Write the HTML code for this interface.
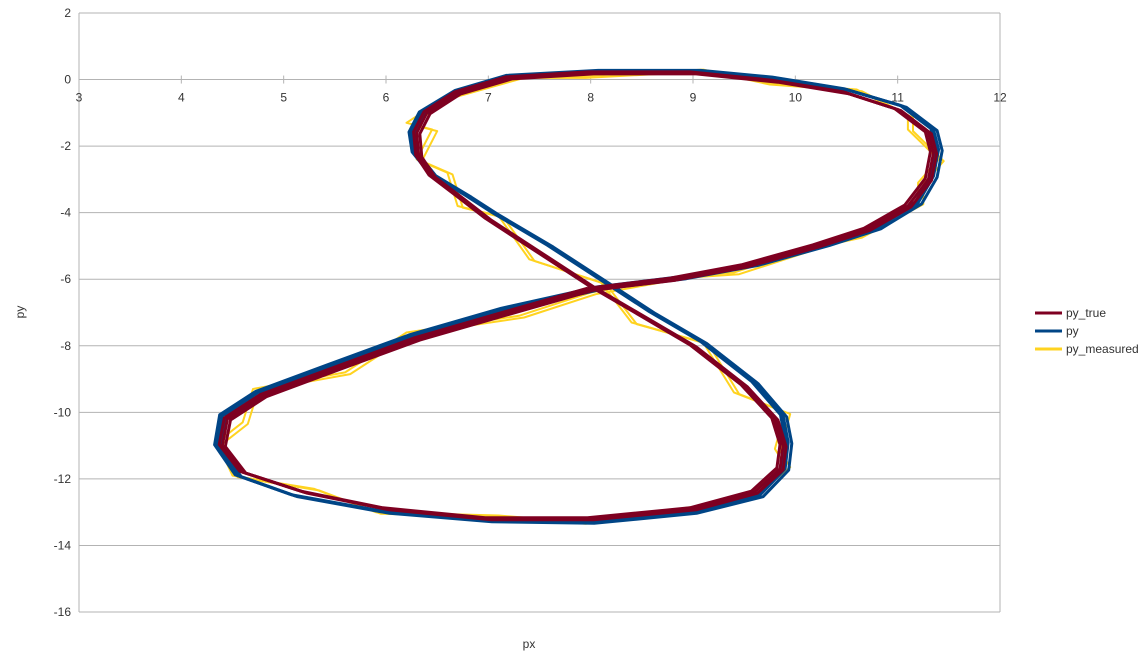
<!DOCTYPE html>
<html><head><meta charset="utf-8">
<style>
body{margin:0;background:#fff;font-family:"Liberation Sans",sans-serif;}
svg text{font-family:"Liberation Sans",sans-serif;font-size:12px;fill:#333;}
</style></head>
<body>
<svg id="chart" width="1147" height="656" xmlns="http://www.w3.org/2000/svg"></svg>
<script>
const xTicks=[3,4,5,6,7,8,9,10,11,12];
const yTicks=[2,0,-2,-4,-6,-8,-10,-12,-14,-16];
const trueX=[8.0,8.8,9.5,10.2,10.7,11.1,11.3,11.35,11.3,11.0,10.5,9.8,9.0,8.0,7.2,6.7,6.4,6.3,6.32,6.45,6.75,7.0,7.5,8.0,8.5,9.0,9.5,9.8,9.88,9.85,9.6,9.0,8.0,7.0,6.0,5.2,4.6,4.4,4.45,4.8,5.5,6.3,7.2,8.0];
const trueY=[-6.3,-6.0,-5.6,-5.0,-4.5,-3.8,-3.0,-2.2,-1.6,-0.9,-0.4,-0.05,0.2,0.2,0.05,-0.4,-1.0,-1.6,-2.3,-2.9,-3.6,-4.2,-5.2,-6.2,-7.1,-8.0,-9.2,-10.2,-11.0,-11.7,-12.4,-12.9,-13.2,-13.2,-12.9,-12.4,-11.8,-11.0,-10.2,-9.5,-8.7,-7.8,-7.0,-6.3];
const pyX=[8.1,8.9,9.6,10.3,10.8,11.2,11.35,11.4,11.35,11.05,10.5,9.8,9.1,8.1,7.2,6.7,6.35,6.25,6.28,6.45,6.8,7.05,7.6,8.1,8.6,9.1,9.6,9.88,9.93,9.9,9.65,9.0,8.0,7.0,6.0,5.1,4.55,4.35,4.4,4.75,5.45,6.25,7.15,8.1];
const pyY=[-6.25,-5.95,-5.55,-4.95,-4.45,-3.7,-2.9,-2.1,-1.5,-0.8,-0.3,0.05,0.25,0.25,0.1,-0.35,-1.0,-1.6,-2.2,-2.85,-3.5,-4.0,-5.0,-6.0,-7.0,-7.9,-9.1,-10.1,-10.9,-11.7,-12.5,-13.0,-13.3,-13.25,-13.0,-12.5,-11.9,-11.0,-10.1,-9.4,-8.6,-7.7,-6.9,-6.25];
const measX=[8.0,8.9,9.4,10.3,10.6,11.2,11.2,11.4,11.1,11.1,10.6,9.7,9.1,7.9,7.3,6.6,6.2,6.45,6.3,6.6,6.7,7.1,7.4,8.1,8.4,9.1,9.4,9.9,9.8,9.9,9.5,9.1,7.9,7.1,5.9,5.3,4.5,4.35,4.6,4.7,5.6,6.2,7.3,8.0];
const measY=[-6.4,-5.9,-5.8,-4.9,-4.7,-3.7,-3.1,-2.4,-1.5,-1.1,-0.3,-0.1,0.3,0.1,0.1,-0.5,-1.3,-1.5,-2.4,-2.8,-3.8,-4.1,-5.4,-6.1,-7.3,-7.9,-9.4,-10.0,-11.1,-11.6,-12.6,-12.8,-13.3,-13.1,-13.0,-12.3,-11.9,-10.9,-10.3,-9.3,-8.8,-7.6,-7.1,-6.4];
const lapsTrue=[0,0.03,-0.03];
const lapsPy=[0,0.035,-0.025];
const lapsMeas=[0,0.05];
const X0=79,X1=1000,Y0=13,Y1=612;
const sx=v=>X0+(v-3)/(12-3)*(X1-X0);
const sy=v=>Y0+(2-v)/(2+16)*(Y1-Y0);
const svg=document.getElementById('chart');
const NS='http://www.w3.org/2000/svg';
function mk(t,a){const e=document.createElementNS(NS,t);for(const k in a)e.setAttribute(k,a[k]);svg.appendChild(e);return e;}
yTicks.forEach(v=>{
 const l=mk('line',{x1:X0,x2:X1,y1:sy(v),y2:sy(v),stroke:'#b3b3b3','stroke-width':1});
 
 
 const t=mk('text',{x:X0-8,y:sy(v)+4,'text-anchor':'end'});t.textContent=v;
 
 
});
const lb=mk('line',{x1:X0,x2:X0,y1:Y0,y2:Y1,stroke:'#b3b3b3'});


const rb=mk('line',{x1:X1,x2:X1,y1:Y0,y2:Y1,stroke:'#b3b3b3'});


xTicks.forEach(v=>{
 const tk=mk('line',{x1:sx(v),x2:sx(v),y1:sy(0)-4,y2:sy(0)+4,stroke:'#b3b3b3'});
 
 
 const t=mk('text',{x:sx(v),y:sy(0)+22,'text-anchor':'middle'});t.textContent=v;
 
 
});
function series(xs,ys,laps,color,w,name){
 laps.forEach(o=>{
  const d=xs.map((x,i)=>(i?'L':'M')+sx(x+o).toFixed(1)+','+sy(ys[i]-o).toFixed(1)).join('');
  const p=mk('path',{d:d,fill:'none',stroke:color,'stroke-width':w,'stroke-linejoin':'round'});
  
  
 });
}
series(measX,measY,lapsMeas,'#ffd320',2,'py-measured-line');
series(pyX,pyY,lapsPy,'#004586',3,'py-line');
series(trueX,trueY,lapsTrue,'#7e0021',3,'py-true-line');
const xt=mk('text',{x:529,y:648,'text-anchor':'middle'});xt.textContent='px';


const yt=mk('text',{x:24,y:312,'text-anchor':'middle',transform:'rotate(-90 24 312)'});yt.textContent='py';


const leg=[['py_true','#7e0021',313],['py','#004586',331],['py_measured','#ffd320',349]];
leg.forEach(e=>{
 const l=mk('line',{x1:1035,x2:1062,y1:e[2],y2:e[2],stroke:e[1],'stroke-width':3});
 
 
 const t=mk('text',{x:1066,y:e[2]+4});t.textContent=e[0];
 
 
});
</script>
</body></html>
